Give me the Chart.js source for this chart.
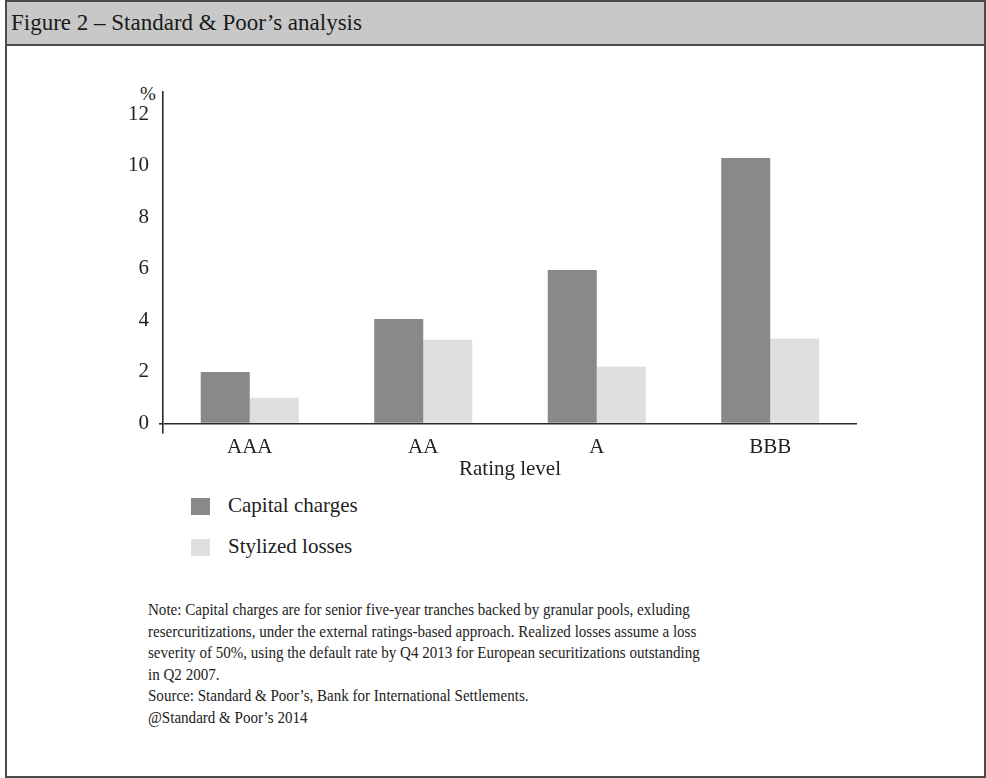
<!DOCTYPE html>
<html>
<head>
<meta charset="utf-8">
<script src="https://cdn.jsdelivr.net/npm/chart.js@4.4.1/dist/chart.umd.min.js"></script>
<style>
  html, body { margin: 0; padding: 0; background: #fff; }
  body { width: 986px; height: 778px; position: relative; overflow: hidden; font-family: "Liberation Serif", "DejaVu Serif", serif; color: #222; }
  #frame { position: absolute; left: 5px; top: 0px; width: 977px; height: 774px; border: 2px solid #4a4a4a; }
  #header { position: absolute; left: 7px; top: 2px; width: 977px; height: 42px; background: #c8c8c8; border-bottom: 2px solid #4a4a4a; }
  #header span { position: absolute; left: 4px; top: 8px; font-size: 23px; color: #1a1a1a; white-space: nowrap; }
  #chart { position: absolute; left: 0; top: 46px; }
  #pct { position: absolute; left: 140px; top: 83px; font-size: 19px; color: #222; }
  #legend { position: absolute; left: 191px; top: 496px; }
  .lg { position: relative; height: 41px; }
  .lg i { position: absolute; left: 0; top: 2px; width: 19px; height: 17px; }
  .lg span { position: absolute; left: 37px; top: -3px; font-size: 21px; white-space: nowrap; color: #222; }
  #notes { position: absolute; left: 148px; top: 599px; font-size: 17.5px; line-height: 21.5px; color: #222; white-space: nowrap; transform: scaleX(0.86); transform-origin: left top; }
</style>
</head>
<body>
<div id="frame"></div>
<div id="header"><span>Figure 2 – Standard &amp; Poor’s analysis</span></div>
<div id="pct">%</div>
<canvas id="chart" width="986" height="442"></canvas>
<div id="legend"></div>
<div id="notes">Note: Capital charges are for senior five-year tranches backed by granular pools, exluding<br>resercuritizations, under the external ratings-based approach. Realized losses assume a loss<br>severity of 50%, using the default rate by Q4 2013 for European securitizations outstanding<br>in Q2 2007.<br>Source: Standard &amp; Poor’s, Bank for International Settlements.<br>@Standard &amp; Poor’s 2014</div>
<script>
const categories = ['AAA', 'AA', 'A', 'BBB'];
const capitalCharges = [2.0, 4.05, 5.95, 10.3];
const stylizedLosses = [1.0, 3.25, 2.2, 3.3];
const yTicks = [0, 2, 4, 6, 8, 10, 12];
const seriesNames = ['Capital charges', 'Stylized losses'];
const seriesColors = ['#898989', '#dfdfdf'];

const FONT = '"Liberation Serif", "DejaVu Serif", serif';

const chart = new Chart(document.getElementById('chart'), {
  type: 'bar',
  data: {
    labels: categories,
    datasets: [
      { label: seriesNames[0], data: capitalCharges, backgroundColor: seriesColors[0], borderWidth: 0 },
      { label: seriesNames[1], data: stylizedLosses, backgroundColor: seriesColors[1], borderWidth: 0 }
    ]
  },
  options: {
    responsive: false,
    animation: false,
    devicePixelRatio: 1,
    layout: { padding: { left: 0, right: 129, top: 46, bottom: 0 } },
    datasets: { bar: { categoryPercentage: 0.565, barPercentage: 1.0 } },
    plugins: { legend: { display: false }, tooltip: { enabled: false } },
    scales: {
      x: {
        grid: { display: false, drawTicks: false },
        border: { display: false },
        ticks: { color: '#222', font: { family: FONT, size: 21 }, padding: 2 },
        title: { display: true, text: 'Rating level', color: '#222', font: { family: FONT, size: 21 }, padding: { top: 0, bottom: 6 } },
        afterFit: s => { s.height = 55; }
      },
      y: {
        min: -0.37,
        max: 12.86,
        afterBuildTicks: s => { s.ticks = yTicks.map(v => ({ value: v })); },
        afterFit: s => { s.width = 163; },
        grid: {
          drawOnChartArea: true,
          drawTicks: true,
          tickLength: 4,
          color: c => (c.tick && c.tick.value === 0 ? '#2a2a2a' : 'rgba(0,0,0,0)'),
          lineWidth: 1.6
        },
        border: { display: true, color: '#2a2a2a', width: 1.6 },
        ticks: { color: '#222', font: { family: FONT, size: 21 }, padding: 10 }
      }
    }
  }
});

const lg = document.getElementById('legend');
chart.data.datasets.forEach(ds => {
  const row = document.createElement('div');
  row.className = 'lg';
  const sw = document.createElement('i');
  sw.style.background = ds.backgroundColor;
  const tx = document.createElement('span');
  tx.textContent = ds.label;
  row.appendChild(sw); row.appendChild(tx);
  lg.appendChild(row);
});
</script>
</body>
</html>
